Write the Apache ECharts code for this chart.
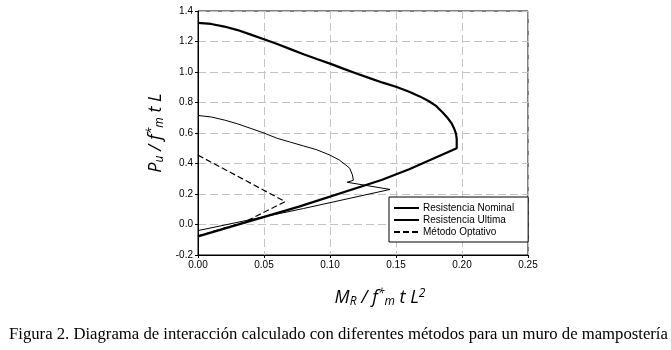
<!DOCTYPE html>
<html>
<head>
<meta charset="utf-8">
<script src="https://cdn.jsdelivr.net/npm/echarts@6/dist/echarts.min.js"></script>
<style>
  html, body { margin: 0; padding: 0; background: #fff; }
  #chart { width: 671px; height: 350px; }
</style>
</head>
<body>
<div id="chart"></div>
<script>
// 数据
var seriesNames = ['Resistencia Nominal', 'Resistencia Ultima', 'Método Optativo'];

var nominalM = [0, 0.01, 0.02, 0.03, 0.04, 0.05, 0.06, 0.07, 0.08, 0.09, 0.10, 0.11, 0.12, 0.13, 0.14, 0.150, 0.160, 0.168, 0.175, 0.180, 0.185, 0.189, 0.192, 0.194, 0.1955, 0.196, 0.196, 0.16, 0.139, 0.0765, 0];
var nominalP = [1.322, 1.315, 1.298, 1.275, 1.245, 1.215, 1.183, 1.15, 1.117, 1.085, 1.055, 1.022, 0.99, 0.96, 0.93, 0.903, 0.870, 0.840, 0.808, 0.780, 0.738, 0.700, 0.665, 0.630, 0.595, 0.56, 0.50, 0.362, 0.292, 0.117, -0.078];

var ultimaM = [0, 0.01, 0.02, 0.03, 0.04, 0.05, 0.06, 0.07, 0.08, 0.09, 0.10, 0.107, 0.112, 0.115, 0.117, 0.1177, 0.113, 0.1455, 0.08, 0];
var ultimaP = [0.715, 0.705, 0.685, 0.66, 0.63, 0.60, 0.565, 0.54, 0.515, 0.49, 0.455, 0.423, 0.39, 0.368, 0.325, 0.29, 0.277, 0.23, 0.105, -0.04];

var optativoM = [0, 0.066, 0.035, 0];
var optativoP = [0.455, 0.15, 0.015, -0.075];

var xTicks = { min: 0, max: 0.25, step: 0.05 };
var yTicks = { min: -0.2, max: 1.4, step: 0.2 };

var caption = 'Figura 2. Diagrama de interacción calculado con diferentes métodos para un muro de mampostería';

function pairs(xs, ys) {
  var out = [];
  for (var i = 0; i < xs.length; i++) out.push([xs[i], ys[i]]);
  return out;
}

var nameRich = {
  it: { fontFamily: 'Open Sans', fontStyle: 'italic', fontSize: 18, color: '#000' },
  sub: { fontFamily: 'Open Sans', fontStyle: 'italic', fontSize: 12, color: '#000', verticalAlign: 'bottom', padding: [8, 0, 0, 0] },
  sup: { fontFamily: 'Open Sans', fontStyle: 'italic', fontSize: 12, color: '#000', verticalAlign: 'top', padding: [0, 0, 6, 0] }
};

var myChart = echarts.init(document.getElementById('chart'));
myChart.setOption({
  animation: false,
  backgroundColor: '#fff',
  title: {
    text: caption,
    left: 4,
    top: 321,
    textStyle: { fontFamily: 'Liberation Serif', fontWeight: 'normal', fontSize: 16.7, color: '#000' }
  },
  grid: {
    left: 198,
    right: 143,
    top: 11,
    bottom: 95,
    show: true,
    borderColor: '#000',
    borderWidth: 1,
    backgroundColor: 'transparent'
  },
  legend: {
    orient: 'vertical',
    left: 389,
    top: 197,
    padding: [6, 14, 5, 4],
    itemWidth: 25,
    itemHeight: 10,
    itemGap: 2,
    backgroundColor: '#fff',
    borderColor: '#000',
    borderWidth: 1,
    borderRadius: 0,
    itemStyle: { opacity: 0 },
    textStyle: { fontFamily: 'Liberation Sans', fontSize: 10, color: '#000', padding: [0, 0, 0, -1] },
    data: seriesNames
  },
  xAxis: {
    type: 'value',
    min: xTicks.min,
    max: xTicks.max,
    interval: xTicks.step,
    name: '{it|M}{sub|R}{it| / f}{sup|*}{sub|m}{it| t L}{sup|2}',
    nameLocation: 'middle',
    nameGap: 33,
    nameTextStyle: { rich: nameRich, padding: [0, 0, 0, 34] },
    axisLine: { onZero: false, lineStyle: { color: '#000', width: 1 } },
    axisTick: { show: true, length: 3, lineStyle: { color: '#000' } },
    axisLabel: {
      fontFamily: 'Liberation Sans', fontSize: 10, color: '#000', margin: 5,
      formatter: function (v) { return v.toFixed(2); }
    },
    splitLine: { show: true, lineStyle: { color: '#c4c4c4', type: [8, 4], width: 1 } }
  },
  yAxis: {
    type: 'value',
    min: yTicks.min,
    max: yTicks.max,
    interval: yTicks.step,
    name: '{it|P}{sub|u}{it| / f}{sup|*}{sub|m}{it| t L}',
    nameLocation: 'middle',
    nameGap: 32,
    nameRotate: 90,
    nameTextStyle: { rich: nameRich },
    axisLine: { onZero: false, lineStyle: { color: '#000', width: 1 } },
    axisTick: { show: true, length: 3, lineStyle: { color: '#000' } },
    axisLabel: {
      fontFamily: 'Liberation Sans', fontSize: 10, color: '#000', margin: 5,
      formatter: function (v) { return v.toFixed(1); }
    },
    splitLine: { show: true, lineStyle: { color: '#c4c4c4', type: [8, 4], width: 1 } }
  },
  series: [
    {
      name: seriesNames[0],
      type: 'line',
      symbol: 'none',
      smooth: false,
      lineStyle: { color: '#000', width: 2.2 },
      itemStyle: { color: '#000' },
      data: pairs(nominalM, nominalP)
    },
    {
      name: seriesNames[1],
      type: 'line',
      symbol: 'none',
      smooth: false,
      lineStyle: { color: '#000', width: 1 },
      itemStyle: { color: '#000' },
      data: pairs(ultimaM, ultimaP)
    },
    {
      name: seriesNames[2],
      type: 'line',
      symbol: 'none',
      smooth: false,
      lineStyle: { color: '#000', width: 1.2, type: [6, 3] },
      itemStyle: { color: '#000' },
      data: pairs(optativoM, optativoP)
    }
  ]
});
</script>
</body>
</html>
